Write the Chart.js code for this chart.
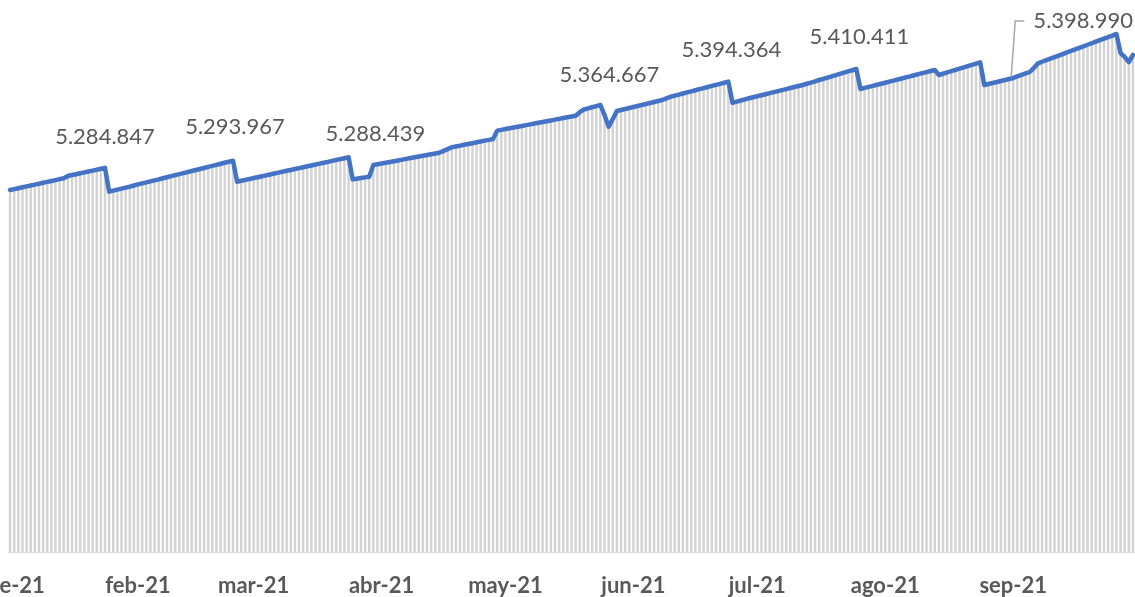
<!DOCTYPE html>
<html>
<head>
<meta charset="utf-8">
<script src="https://cdn.jsdelivr.net/npm/chart.js@4"></script>
<style>
  html, body { margin: 0; padding: 0; background: #ffffff; }
  #wrap { width: 1135px; height: 597px; overflow: hidden; }
</style>
</head>
<body>
<div id="wrap"><canvas id="myChart" width="1135" height="597"></canvas></div>
<script>
const monthLabels = ['ene-21', 'feb-21', 'mar-21', 'abr-21', 'may-21', 'jun-21', 'jul-21', 'ago-21', 'sep-21'];
const monthDays = [31, 28, 31, 30, 31, 30, 31, 31, 30];

// one value per day, 1 Jan 2021 .. 30 Sep 2021
const dailyValues = [
    5256700, 5257900, 5259000, 5260200, 5261300, 5262500, 5263600, 5264700, 5265900, 5267000,
    5268200, 5269300, 5270500, 5271600, 5274500, 5275700, 5276800, 5278000, 5279100, 5280300,
    5281400, 5282500, 5283700, 5284847, 5254600, 5255900, 5257200, 5258500, 5259800, 5261100,
    5262500, 5263800, 5265100, 5266400, 5267700, 5269000, 5270300, 5271600, 5272900, 5274300,
    5275600, 5276900, 5278200, 5279500, 5280800, 5282100, 5283400, 5284700, 5286100, 5287400,
    5288700, 5290000, 5291300, 5292600, 5293967, 5267300, 5268400, 5269600, 5270700, 5271900,
    5273000, 5274200, 5275300, 5276500, 5277600, 5278800, 5279900, 5281100, 5282200, 5283400,
    5284500, 5285700, 5286800, 5287900, 5289100, 5290200, 5291400, 5292500, 5293700, 5294800,
    5296000, 5297100, 5298300, 5270300, 5271100, 5271900, 5272800, 5273600, 5288439, 5289400,
    5290400, 5291400, 5292400, 5293300, 5294300, 5295300, 5296300, 5297300, 5298300, 5299200,
    5300200, 5301200, 5302200, 5303100, 5304100, 5306400, 5308700, 5311000, 5312000, 5313100,
    5314100, 5315200, 5316200, 5317300, 5318300, 5319400, 5320400, 5321500, 5332100, 5333100,
    5334100, 5335100, 5336100, 5337100, 5338100, 5339100, 5340100, 5341100, 5342100, 5343100,
    5344100, 5345100, 5346100, 5347100, 5348100, 5349100, 5350100, 5351100, 5355500, 5359000,
    5360400, 5361800, 5363200, 5364667, 5352000, 5337100, 5346900, 5357100, 5358400, 5359600,
    5360900, 5362200, 5363400, 5364700, 5366000, 5367200, 5368500, 5369800, 5371000, 5373100,
    5375200, 5376600, 5377900, 5379300, 5380700, 5382000, 5383400, 5384800, 5386100, 5387500,
    5388900, 5390200, 5391600, 5393000, 5394364, 5367600, 5369000, 5370400, 5371800, 5373200,
    5374500, 5375800, 5377100, 5378400, 5379700, 5381000, 5382300, 5383600, 5384900, 5386200,
    5387500, 5388800, 5390100, 5391700, 5393200, 5394800, 5396400, 5397900, 5399500, 5401000,
    5402600, 5404200, 5405700, 5407300, 5408800, 5410411, 5385000, 5386400, 5387700, 5389000,
    5390400, 5391700, 5393000, 5394400, 5395700, 5397100, 5398400, 5399700, 5401100, 5402400,
    5403800, 5405100, 5406500, 5407800, 5409100, 5402800, 5404400, 5406000, 5407600, 5409200,
    5410900, 5412500, 5414100, 5415700, 5417300, 5418900, 5390100, 5391400, 5392600, 5393900,
    5395200, 5396500, 5397700, 5398990, 5400900, 5402800, 5404700, 5406600, 5411700, 5417600,
    5419600, 5421600, 5423500, 5425500, 5427400, 5429400, 5431400, 5433300, 5435300, 5437300,
    5439200, 5441200, 5443100, 5445100, 5447100, 5449000, 5451000, 5452900, 5454900, 5430700,
    5425700, 5419300, 5428200
];

// days that carry a value label
const labelIdx = [23, 54, 88, 143, 174, 205, 243];

// category per day
const days = [];
monthDays.forEach((n, m) => {
    for (let d = 1; d <= n; d++) {
        days.push('2021-' + String(m + 1).padStart(2, '0') + '-' + String(d).padStart(2, '0'));
    }
});

const LINE_COLOR = '#4472C4';
const BAR_COLOR = '#d3d3d3';
const TEXT_COLOR = '#595959';

// label placement relative to its point (style only)
const labelOffsets = [[0, -31], [2, -34], [2, -31], [9, -30], [3, -32], [3, -32], [70, -57]];
const leaderFor = 243;

const fmt = v => String(Math.round(v)).replace(/\B(?=(\d{3})+(?!\d))/g, '.');

const valueLabels = {
    id: 'valueLabels',
    afterDatasetsDraw(chart) {
        const meta = chart.getDatasetMeta(0);
        const ctx = chart.ctx;
        ctx.save();
        ctx.font = '22px Lato';
        ctx.fillStyle = TEXT_COLOR;
        ctx.textAlign = 'center';
        ctx.textBaseline = 'middle';
        labelIdx.forEach((idx, k) => {
            const pt = meta.data[idx];
            const [dx, dy] = labelOffsets[k];
            const tx = pt.x + dx, ty = pt.y + dy;
            if (idx === leaderFor) {
                const w = ctx.measureText(fmt(dailyValues[idx])).width;
                ctx.strokeStyle = '#a6a6a6';
                ctx.lineWidth = 1.5;
                ctx.beginPath();
                ctx.moveTo(pt.x - 2, pt.y - 1);
                ctx.lineTo(pt.x + 2, ty);
                ctx.lineTo(tx - w / 2 - 9, ty);
                ctx.stroke();
            }
            ctx.fillText(fmt(dailyValues[idx]), tx, ty);
        });
        ctx.restore();
    }
};

const config = {
    type: 'bar',
    data: {
        labels: days,
        datasets: [
            {
                type: 'line',
                label: 'line',
                data: dailyValues,
                borderColor: LINE_COLOR,
                borderWidth: 4.5,
                borderJoinStyle: 'round',
                borderCapStyle: 'round',
                pointRadius: 0,
                tension: 0,
                fill: false,
                order: 0,
            },
            {
                label: 'bars',
                data: dailyValues,
                backgroundColor: BAR_COLOR,
                barPercentage: 0.6,
                categoryPercentage: 1.0,
                order: 1,
            },
        ]
    },
    options: {
        responsive: false,
        animation: false,
        layout: {
            padding: { left: 8, right: 0, top: 9, bottom: 0 }
        },
        scales: {
            x: {
                grid: { display: false },
                border: { display: true, color: '#d9d9d9', width: 1 },
                ticks: {
                    autoSkip: false,
                    minRotation: 0,
                    maxRotation: 0,
                    padding: 13,
                    color: TEXT_COLOR,
                    font: { family: 'Lato', size: 22, weight: 'bold' },
                    callback: function (val, i) {
                        const c = days[i];
                        return c.endsWith('-01') ? monthLabels[+c.slice(5, 7) - 1] : '';
                    }
                },
                afterFit(scale) {
                    scale.paddingLeft = 0;
                    scale.paddingRight = 0;
                    scale.height = 45;
                }
            },
            y: {
                display: false,
                min: 4797000,
                max: 5486600,
            }
        },
        plugins: {
            legend: { display: false },
            tooltip: { enabled: false }
        }
    },
    plugins: [valueLabels]
};

const ctx = document.getElementById('myChart').getContext('2d');
new Chart(ctx, config);
</script>
</body>
</html>
